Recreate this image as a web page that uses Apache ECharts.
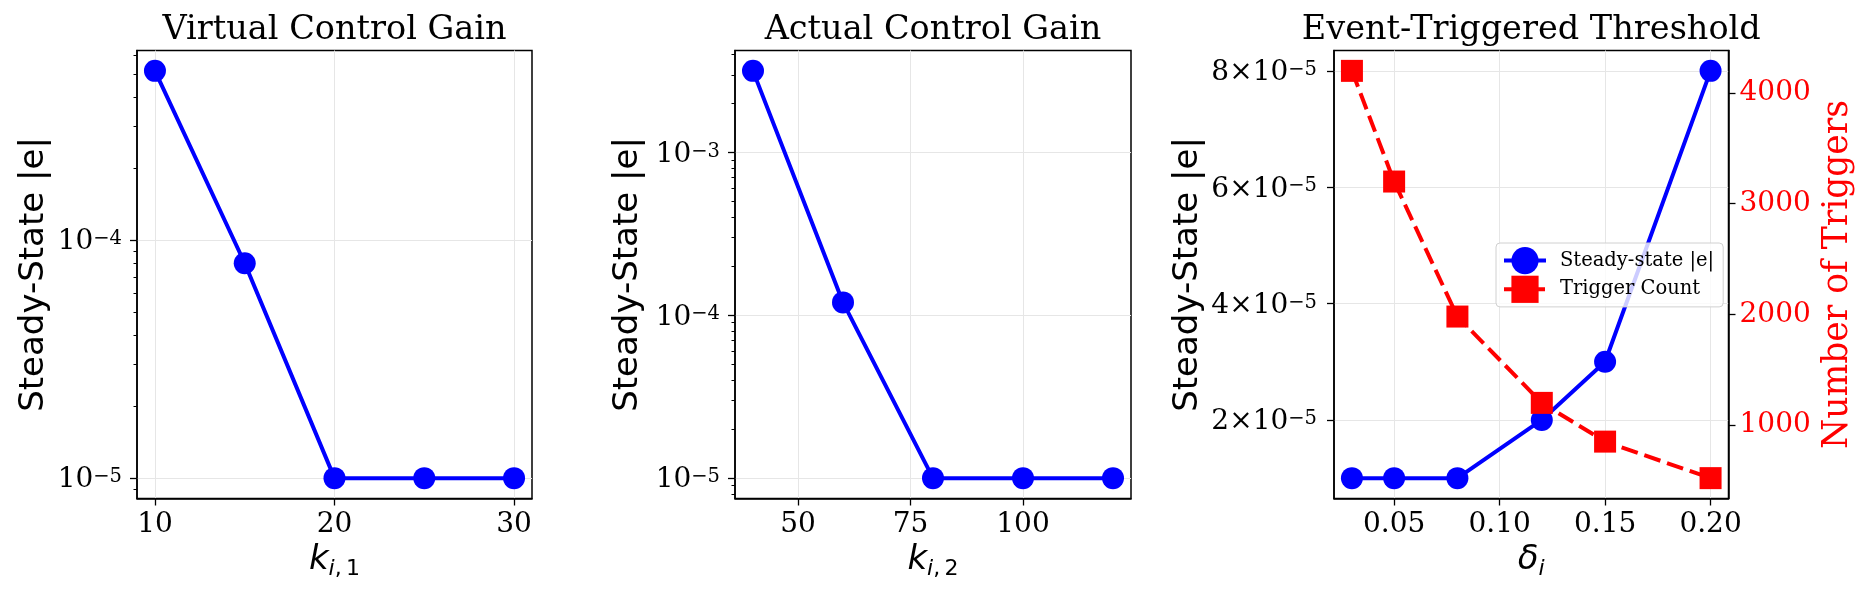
<!DOCTYPE html>
<html>
<head>
<meta charset="utf-8">
<script src="https://cdn.jsdelivr.net/npm/echarts@6/dist/echarts.min.js"></script>
<style>
  html, body { margin: 0; padding: 0; background: #fff; }
  #chart { width: 1870px; height: 595px; }
</style>
</head>
<body>
<div id="chart"></div>
<script>
// panel 1: virtual control gain
var k1 = [10, 15, 20, 25, 30];
var err1 = [5.15e-4, 8e-5, 1e-5, 1e-5, 1e-5];
// panel 2: actual control gain
var k2 = [40, 60, 80, 100, 120];
var err2 = [3.17e-3, 1.2e-4, 1e-5, 1e-5, 1e-5];
// panel 3: event-triggered threshold
var delta = [0.03, 0.05, 0.08, 0.12, 0.15, 0.20];
var err3 = [1e-5, 1e-5, 1e-5, 2e-5, 3e-5, 8e-5];
var triggers = [4200, 3200, 1980, 1200, 850, 520];

// tick labels
var ticksX1 = [10, 20, 30];
var ticksX2 = [50, 75, 100];
var ticksX3 = [0.05, 0.10, 0.15, 0.20];
var ticksY1 = [1e-5, 1e-4];
var ticksY2 = [1e-5, 1e-4, 1e-3];
var ticksY3 = [2e-5, 4e-5, 6e-5, 8e-5];
var ticksTrig = [1000, 2000, 3000, 4000];

var titles = ['Virtual Control Gain', 'Actual Control Gain', 'Event-Triggered Threshold'];

var dom = document.getElementById('chart');
var myChart = echarts.init(dom);

var SERIF = 'DejaVu Serif';
var SANS = 'DejaVu Sans';

// plot boxes [left, top, width, height]
var boxes = [
    [137, 50.5, 395, 448],
    [735, 50.5, 396, 448],
    [1334, 50.5, 394.5, 448]
];

function zip(a, b) {
    return a.map(function (v, i) { return [v, b[i]]; });
}
function minOf(a) { return Math.min.apply(null, a); }
function maxOf(a) { return Math.max.apply(null, a); }
// matplotlib-like 5% margins
function padLin(a) {
    var lo = minOf(a), hi = maxOf(a), m = (hi - lo) * 0.05;
    return [lo - m, hi + m];
}
function padLog(a) {
    var lo = Math.log10(minOf(a)), hi = Math.log10(maxOf(a)), m = (hi - lo) * 0.05;
    return [Math.pow(10, lo - m), Math.pow(10, hi + m)];
}
function minorLog(range) {
    var out = [];
    for (var e = -7; e <= -1; e++) {
        for (var m = 2; m <= 9; m++) {
            var v = m * Math.pow(10, e);
            if (v > range[0] && v < range[1]) out.push(v);
        }
    }
    return out;
}

var supRich = {
    b: { fontFamily: SERIF, fontSize: 28, lineHeight: 30, color: '#000', padding: [4, 0, 0, 0] },
    s: { fontFamily: SERIF, fontSize: 19.5, lineHeight: 19.5, color: '#000', verticalAlign: 'top', padding: [4, 0, 0, 0] }
};
function powLabel(v) {
    return '{b|10}{s|\u2212' + (-Math.round(Math.log10(v))) + '}';
}
function sciLabel(v) {
    return '{b|' + Math.round(v / 1e-5) + '\u00d710}{s|\u22125}';
}

var xNameRich = {
    k: { fontFamily: SANS, fontStyle: 'italic', fontSize: 34, lineHeight: 40, color: '#000' },
    i: { fontFamily: SANS, fontStyle: 'italic', fontSize: 22, lineHeight: 17, color: '#000', verticalAlign: 'bottom' },
    n: { fontFamily: SANS, fontSize: 22, lineHeight: 17, color: '#000', verticalAlign: 'bottom' }
};

var splitStyle = { show: true, lineStyle: { color: '#e6e6e6', width: 1 } };
var tickStyle = { show: true, inside: false, length: 7, lineStyle: { color: '#000', width: 1.3 } };
var lineAxis = { show: true, lineStyle: { color: '#000', width: 1.5 } };

function xAxisCfg(gi, range, ticks, fmt, name) {
    return {
        gridIndex: gi,
        type: 'value',
        min: range[0],
        max: range[1],
        axisLine: lineAxis,
        axisTick: Object.assign({ customValues: ticks }, tickStyle),
        axisLabel: {
            customValues: ticks,
            formatter: fmt,
            margin: 12,
            fontFamily: SERIF,
            fontSize: 28,
            color: '#000'
        },
        splitLine: splitStyle,
        name: name,
        nameLocation: 'middle',
        nameGap: 42,
        nameTextStyle: { rich: xNameRich }
    };
}

function logAxisCfg(gi, range, ticks, gap) {
    return {
        gridIndex: gi,
        type: 'log',
        position: 'left',
        min: range[0],
        max: range[1],
        axisLine: lineAxis,
        axisTick: Object.assign({ customValues: ticks }, tickStyle),
        axisLabel: { customValues: ticks, formatter: powLabel, margin: 15, rich: supRich },
        splitLine: splitStyle,
        name: 'Steady-State |e|',
        nameLocation: 'middle',
        nameRotate: 90,
        nameGap: gap,
        nameTextStyle: { fontFamily: SANS, fontSize: 34, color: '#000' }
    };
}
// log minor ticks (2..9 x 10^n) on an overlaid axis
function minorAxisCfg(gi, range) {
    return {
        gridIndex: gi,
        type: 'log',
        position: 'left',
        min: range[0],
        max: range[1],
        axisLine: { show: false },
        axisTick: { show: true, inside: false, length: 3.5, customValues: minorLog(range), lineStyle: { color: '#000', width: 1 } },
        axisLabel: { show: false },
        splitLine: { show: false }
    };
}

var rX1 = padLin(k1), rX2 = padLin(k2), rX3 = padLin(delta);
var rY1 = padLog(err1), rY2 = padLog(err2), rY3 = padLin(err3), rT = padLin(triggers);

var option = {
    animation: false,
    backgroundColor: '#fff',
    grid: boxes.map(function (b) {
        return {
            left: b[0], top: b[1], width: b[2], height: b[3],
            show: true, borderColor: '#000', borderWidth: 1.5, backgroundColor: 'transparent'
        };
    }),
    graphic: titles.map(function (t, i) {
        var b = boxes[i];
        return {
            type: 'text',
            x: b[0] + b[2] / 2,
            y: 30,
            style: {
                text: t, align: 'center', verticalAlign: 'middle',
                fontFamily: SERIF, fontSize: 33.5, fill: '#000'
            }
        };
    }),
    legend: {
        data: ['Steady-state |e|', 'Trigger Count'],
        orient: 'vertical',
        left: 1496,
        top: 243,
        itemWidth: 42,
        itemHeight: 34,
        itemGap: 1.5,
        padding: [4, 9, 4, 6],
        lineStyle: { width: 4 },
        backgroundColor: 'rgba(255,255,255,0.8)',
        borderColor: '#d0d0d0',
        borderWidth: 1,
        borderRadius: 4,
        textStyle: { fontFamily: SERIF, fontSize: 19.5, color: '#000', padding: [0, 0, 0, 9] }
    },
    xAxis: [
        xAxisCfg(0, rX1, ticksX1, function (v) { return String(v); }, '{k|k}{i|i}{n|,\u20091}'),
        xAxisCfg(1, rX2, ticksX2, function (v) { return String(v); }, '{k|k}{i|i}{n|,\u20092}'),
        xAxisCfg(2, rX3, ticksX3, function (v) { return v.toFixed(2); }, '{k|\u03b4}{i|i}')
    ],
    yAxis: [
        logAxisCfg(0, rY1, ticksY1, 86),
        minorAxisCfg(0, rY1),
        logAxisCfg(1, rY2, ticksY2, 90),
        minorAxisCfg(1, rY2),
        {
            gridIndex: 2,
            type: 'value',
            position: 'left',
            min: rY3[0],
            max: rY3[1],
            axisLine: lineAxis,
            axisTick: Object.assign({ customValues: ticksY3 }, tickStyle),
            axisLabel: { customValues: ticksY3, formatter: sciLabel, margin: 17, rich: supRich },
            splitLine: splitStyle,
            name: 'Steady-State |e|',
            nameLocation: 'middle',
            nameRotate: 90,
            nameGap: 129,
            nameTextStyle: { fontFamily: SANS, fontSize: 34, color: '#000' }
        },
        {
            gridIndex: 2,
            type: 'value',
            position: 'right',
            min: rT[0],
            max: rT[1],
            axisLine: lineAxis,
            axisTick: Object.assign({ customValues: ticksTrig }, tickStyle),
            axisLabel: {
                customValues: ticksTrig,
                formatter: function (v) { return String(v); },
                margin: 11,
                fontFamily: SERIF,
                fontSize: 28,
                color: '#ff0000'
            },
            splitLine: { show: false },
            name: 'Number of Triggers',
            nameLocation: 'middle',
            nameRotate: 90,
            nameGap: 92,
            nameTextStyle: { fontFamily: SERIF, fontSize: 34.5, color: '#ff0000' }
        }
    ],
    series: [
        {
            name: 'err1', type: 'line', xAxisIndex: 0, yAxisIndex: 0,
            data: zip(k1, err1),
            symbol: 'circle', symbolSize: 22,
            itemStyle: { color: '#0000ff' },
            lineStyle: { color: '#0000ff', width: 4 }
        },
        {
            name: 'err2', type: 'line', xAxisIndex: 1, yAxisIndex: 2,
            data: zip(k2, err2),
            symbol: 'circle', symbolSize: 22,
            itemStyle: { color: '#0000ff' },
            lineStyle: { color: '#0000ff', width: 4 }
        },
        {
            name: 'Steady-state |e|', type: 'line', xAxisIndex: 2, yAxisIndex: 4,
            data: zip(delta, err3),
            symbol: 'circle', symbolSize: 22,
            itemStyle: { color: '#0000ff' },
            lineStyle: { color: '#0000ff', width: 4 }
        },
        {
            name: 'Trigger Count', type: 'line', xAxisIndex: 2, yAxisIndex: 5,
            data: zip(delta, triggers),
            symbol: 'rect', symbolSize: 22,
            itemStyle: { color: '#ff0000' },
            lineStyle: { color: '#ff0000', width: 4, type: [17, 7] }
        }
    ]
};

myChart.setOption(option);
</script>
</body>
</html>
